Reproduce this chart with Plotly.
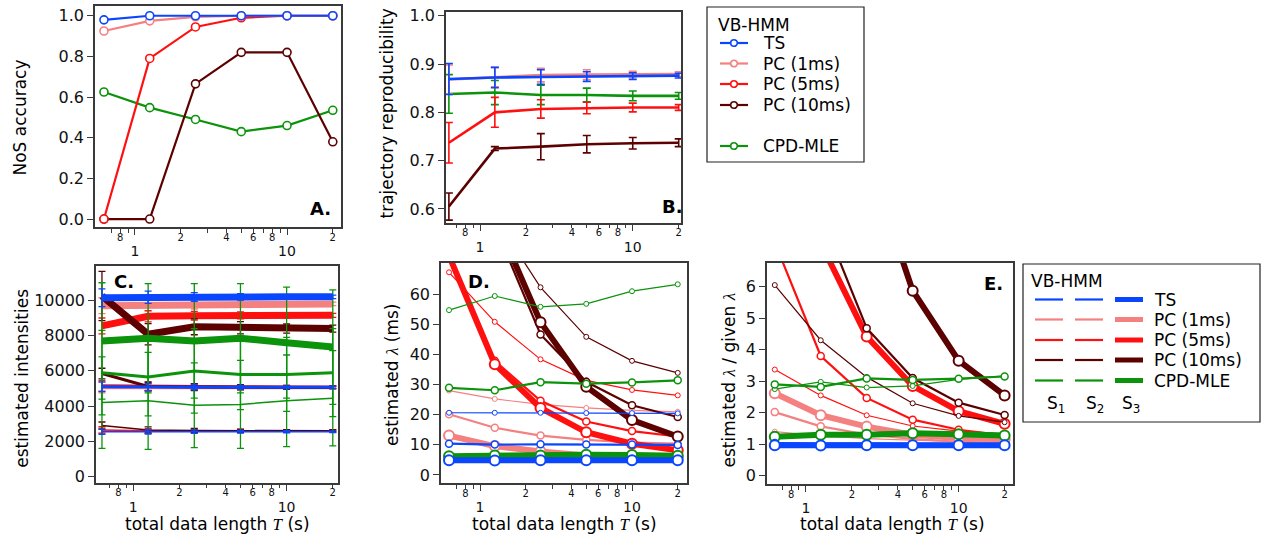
import plotly.graph_objects as go

W, H = 1264, 541
FONT = "DejaVu Sans"
SERIF = "Liberation Serif"
FRAME = "#3a3a3a"
INK = "#111111"

# ---------------- data ----------------
T = [0.625, 1.25, 2.5, 5, 10, 20]
METHODS = ["TS", "PC (1ms)", "PC (5ms)", "PC (10ms)", "CPD-MLE"]
COLORS = ["#0b46ff", "#f48080", "#ff1010", "#5c0000", "#0b930b"]
STATE_LABELS = ["S<sub>1</sub>", "S<sub>2</sub>", "S<sub>3</sub>"]

# Panel A: NoS accuracy
NOS_TS = [0.98, 1.0, 1.0, 1.0, 1.0, 1.0]
NOS_PC1 = [0.925, 0.975, 0.995, 1.0, 1.0, 1.0]
NOS_PC5 = [0.0, 0.79, 0.945, 0.99, 1.0, 1.0]
NOS_PC10 = [0.0, 0.0, 0.665, 0.82, 0.82, 0.38]
NOS_CPD = [0.625, 0.548, 0.49, 0.43, 0.46, 0.535]

# Panel B: trajectory reproducibility (mean, error)
REP_TS = [0.869, 0.872, 0.873, 0.874, 0.875, 0.876]
REP_TS_ERR = [0.032, 0.021, 0.015, 0.010, 0.007, 0.005]
REP_PC1 = [0.868, 0.873, 0.877, 0.878, 0.878, 0.879]
REP_PC1_ERR = [0.030, 0.020, 0.014, 0.010, 0.007, 0.005]
REP_PC5 = [0.737, 0.800, 0.807, 0.809, 0.810, 0.810]
REP_PC5_ERR = [0.042, 0.031, 0.019, 0.012, 0.009, 0.006]
REP_PC10 = [0.605, 0.725, 0.729, 0.734, 0.736, 0.737]
REP_PC10_ERR = [0.028, 0.004, 0.027, 0.018, 0.012, 0.008]
REP_CPD = [0.838, 0.841, 0.836, 0.836, 0.834, 0.834]
REP_CPD_ERR = [0.040, 0.025, 0.020, 0.014, 0.010, 0.007]

# Panel C: estimated intensities, states S1, S2, S3
INT_TS = [[2550, 2540, 2550, 2550, 2550, 2550],
          [5100, 5080, 5080, 5070, 5070, 5070],
          [10150, 10180, 10190, 10200, 10200, 10200]]
INT_TS_ERR = [[150, 120, 100, 80, 60, 50],
              [280, 200, 150, 110, 80, 60],
              [500, 350, 250, 180, 130, 100]]
INT_PC1 = [[2600, 2570, 2570, 2570, 2570, 2570],
           [5050, 5050, 5050, 5050, 5050, 5050],
           [9700, 9720, 9760, 9780, 9790, 9800]]
INT_PC1_ERR = [[150, 120, 100, 80, 60, 50],
               [300, 220, 160, 120, 90, 70],
               [450, 330, 250, 180, 130, 100]]
INT_PC5 = [[2650, 2600, 2600, 2600, 2600, 2600],
           [5150, 5120, 5100, 5100, 5090, 5090],
           [8550, 9100, 9130, 9150, 9150, 9150]]
INT_PC5_ERR = [[180, 130, 100, 80, 60, 50],
               [300, 230, 170, 120, 90, 70],
               [450, 320, 250, 200, 150, 110]]
INT_PC10 = [[2900, 2650, 2620, 2610, 2600, 2600],
            [5850, 5120, 5080, 5070, 5060, 5060],
            [10250, 8080, 8500, 8450, 8400, 8400]]
INT_PC10_ERR = [[200, 170, 120, 90, 70, 60],
                [300, 250, 200, 150, 110, 80],
                [1400, 600, 450, 350, 260, 200]]
INT_CPD = [[4200, 4300, 4050, 4100, 4300, 4450],
           [5900, 5650, 6000, 5800, 5800, 5900],
           [7700, 7850, 7700, 7850, 7600, 7350]]
INT_CPD_ERR = [[2600, 2750, 2400, 2500, 2600, 2700],
               [2400, 2200, 2400, 2000, 2100, 2500],
               [3300, 3100, 3250, 3100, 3150, 3250]]

# Panel D: estimated lambda (ms), states S1, S2, S3
LAM_TS = [[20.7, 20.7, 20.7, 20.6, 20.6, 20.5],
          [10.4, 10.1, 10.2, 10.1, 10.1, 10.0],
          [4.85, 4.8, 4.85, 4.85, 4.85, 4.85]]
LAM_PC1 = [[28.1, 25.3, 23.5, 22.3, 21.5, 21.0],
           [20.2, 15.7, 13.1, 11.7, 10.8, 10.4],
           [13.1, 9.6, 7.8, 6.5, 6.0, 5.8]]
LAM_PC5 = [[67.5, 51.0, 38.5, 31.5, 28.3, 26.5],
           [74.0, 38.0, 24.7, 17.8, 14.6, 12.8],
           [73.0, 36.9, 22.3, 14.2, 10.4, 8.2]]
LAM_PC10 = [[121.0, 86.0, 62.5, 46.0, 38.0, 34.0],
            [125.0, 83.0, 46.8, 31.0, 23.2, 19.3],
            [140.0, 86.0, 50.9, 29.4, 18.3, 12.8]]
LAM_CPD = [[54.9, 59.6, 56.0, 57.0, 61.2, 63.5],
           [29.0, 28.2, 30.9, 30.4, 30.8, 31.5],
           [6.2, 6.5, 6.5, 6.75, 6.6, 6.4]]

# Panel E: estimated lambda / given lambda, states S1, S2, S3
RAT_TS = [[1.035, 1.035, 1.035, 1.03, 1.03, 1.025],
          [1.04, 1.01, 1.02, 1.01, 1.01, 1.0],
          [0.97, 0.96, 0.97, 0.97, 0.97, 0.97]]
RAT_PC1 = [[1.40, 1.27, 1.18, 1.12, 1.08, 1.05],
           [2.02, 1.57, 1.31, 1.17, 1.08, 1.04],
           [2.62, 1.92, 1.56, 1.30, 1.20, 1.16]]
RAT_PC5 = [[3.37, 2.55, 1.92, 1.58, 1.42, 1.33],
           [7.4, 3.8, 2.47, 1.78, 1.46, 1.28],
           [14.6, 7.38, 4.42, 2.85, 2.05, 1.65]]
RAT_PC10 = [[6.05, 4.3, 3.13, 2.3, 1.9, 1.7],
            [12.5, 8.3, 4.68, 3.1, 2.32, 1.93],
            [28.0, 17.2, 10.2, 5.87, 3.65, 2.55]]
RAT_CPD = [[2.75, 2.98, 2.80, 2.85, 3.06, 3.17],
           [2.90, 2.82, 3.09, 3.04, 3.08, 3.15],
           [1.24, 1.30, 1.30, 1.35, 1.32, 1.28]]

# x tick labels (Igor-like log axis)
LABELED_VALS = [0.8, 2, 4, 6, 8, 20]
LABELED_TEXT = ["8", "2", "4", "6", "8", "2"]
UNLABELED_VALS = [0.7, 0.9, 3, 5, 7, 9]
MAJOR_VALS = [1, 10]
MAJOR_TEXT = ["1", "10"]

NOS = [NOS_TS, NOS_PC1, NOS_PC5, NOS_PC10, NOS_CPD]
REP = [REP_TS, REP_PC1, REP_PC5, REP_PC10, REP_CPD]
REP_ERR = [REP_TS_ERR, REP_PC1_ERR, REP_PC5_ERR, REP_PC10_ERR, REP_CPD_ERR]
INT = [INT_TS, INT_PC1, INT_PC5, INT_PC10, INT_CPD]
INT_ERR = [INT_TS_ERR, INT_PC1_ERR, INT_PC5_ERR, INT_PC10_ERR, INT_CPD_ERR]
LAM = [LAM_TS, LAM_PC1, LAM_PC5, LAM_PC10, LAM_CPD]
RAT = [RAT_TS, RAT_PC1, RAT_PC5, RAT_PC10, RAT_CPD]

# ---------------- styles ----------------
TOP_ORDER = [4, 3, 2, 1, 0]
BOT_ORDER = [1, 2, 3, 4, 0]
C_WIDTH = [1.5, 3, 7]
DE_WIDTH = [1.2, 2.2, 6]
DE_MSIZE = [5, 7, 10]
DE_MLINE = [1, 1.5, 2]


def px(x):
    return x / W


def py(y):
    return 1 - y / H


fig = go.Figure()

# Panel A
for m in TOP_ORDER:
    fig.add_trace(go.Scatter(
        x=T, y=NOS[m], mode="lines+markers", name=METHODS[m], showlegend=False,
        line=dict(color=COLORS[m], width=2.2),
        marker=dict(symbol="circle", size=8, color="white",
                    line=dict(color=COLORS[m], width=1.6)),
        xaxis="x", yaxis="y"))

# Panel B
for m in TOP_ORDER:
    fig.add_trace(go.Scatter(
        x=T, y=REP[m], mode="lines", name=METHODS[m], showlegend=False,
        line=dict(color=COLORS[m], width=2.6),
        error_y=dict(type="data", array=REP_ERR[m], color=COLORS[m],
                     thickness=1.6, width=4),
        xaxis="x2", yaxis="y2"))

# Panel C
for m in BOT_ORDER:
    for s in range(3):
        fig.add_trace(go.Scatter(
            x=T, y=INT[m][s], mode="lines", showlegend=False,
            name="%s S%d" % (METHODS[m], s + 1),
            line=dict(color=COLORS[m], width=C_WIDTH[s]),
            error_y=dict(type="data", array=INT_ERR[m][s], color=COLORS[m],
                         thickness=1.3, width=3.5),
            xaxis="x3", yaxis="y3"))

# Panels D and E
for data, xa, ya in [(LAM, "x4", "y4"), (RAT, "x5", "y5")]:
    for m in BOT_ORDER:
        for s in range(3):
            fig.add_trace(go.Scatter(
                x=T, y=data[m][s], mode="lines+markers", showlegend=False,
                name="%s S%d" % (METHODS[m], s + 1),
                line=dict(color=COLORS[m], width=DE_WIDTH[s]),
                marker=dict(symbol="circle", size=DE_MSIZE[s], color="white",
                            line=dict(color=COLORS[m], width=DE_MLINE[s])),
                xaxis=xa, yaxis=ya))

# empty traces so that the overlay (major-tick) axes are drawn
for i in range(5):
    fig.add_trace(go.Scatter(x=[], y=[], showlegend=False, hoverinfo="skip",
                             xaxis="x%d" % (i + 6),
                             yaxis="y" if i == 0 else "y%d" % (i + 1)))

PANELS = [
    # xdomain px, ydomain px (top, bottom), x log range, y range, y tick values, fmt
    ((95, 341), (6, 227), [-0.263, 1.355], [-0.039, 1.048],
     [0, 0.2, 0.4, 0.6, 0.8, 1.0], ".1f"),
    ((446, 681), (12.3, 222.7), [-0.223, 1.316], [0.5716, 1.007],
     [0.6, 0.7, 0.8, 0.9, 1.0], ".1f"),
    ((96, 338), (266, 482.7), [-0.243, 1.335], [-343, 11950],
     [0, 2000, 4000, 6000, 8000, 10000], "d"),
    ((441, 687), (263, 483), [-0.257, 1.362], [-2.7, 70.6],
     [0, 10, 20, 30, 40, 50, 60], "d"),
    ((767, 1013), (263, 484), [-0.255, 1.356], [-0.26, 6.75],
     [0, 1, 2, 3, 4, 5, 6], "d"),
]

layout = dict(
    width=W, height=H, margin=dict(l=0, r=0, t=0, b=0, autoexpand=False),
    paper_bgcolor="white", plot_bgcolor="white",
    font=dict(family=FONT, color=INK, size=16),
    showlegend=False,
)

for i, (xd, yd, xr, yr, yt, fmt) in enumerate(PANELS):
    k = "" if i == 0 else str(i + 1)
    layout["xaxis" + k] = dict(
        type="log", domain=[px(xd[0]), px(xd[1])], range=xr, anchor="y" + k,
        automargin=False,
        showline=True, linecolor=FRAME, linewidth=1.5, mirror=True,
        ticks="outside", ticklen=4, tickwidth=1, tickcolor=FRAME,
        tickmode="array", tickvals=LABELED_VALS, ticktext=LABELED_TEXT,
        ticklabelstandoff=-4,
        tickfont=dict(family=FONT, size=10, color=INK),
        minor=dict(tickmode="array", tickvals=UNLABELED_VALS, ticks="outside",
                   ticklen=4, tickwidth=1, tickcolor=FRAME, showgrid=False),
        showgrid=False, zeroline=False)
    layout["xaxis%d" % (i + 6)] = dict(
        type="log", overlaying="x" + k, range=xr, anchor="y" + k, side="bottom",
        automargin=False,
        showline=False, ticks="outside", ticklen=7, tickwidth=1, tickcolor=FRAME,
        tickmode="array", tickvals=MAJOR_VALS, ticktext=MAJOR_TEXT,
        ticklabelstandoff=4,
        tickfont=dict(family=FONT, size=14, color=INK),
        showgrid=False, zeroline=False)
    layout["yaxis" + k] = dict(
        domain=[py(yd[1]), py(yd[0])], range=yr, anchor="x" + k,
        automargin=False,
        showline=True, linecolor=FRAME, linewidth=1.5, mirror=True,
        ticks="outside", ticklen=6, tickwidth=1.2, tickcolor=FRAME,
        tickmode="array", tickvals=yt, tickformat=fmt,
        tickfont=dict(family=FONT, size=16, color=INK),
        showgrid=False, zeroline=False)

ann = []
shapes = []
lam = "<span style=\"font-family:%s\"><i>λ</i></span>" % SERIF
tt = "<span style=\"font-family:%s\"><i>T</i></span>" % SERIF


def add_text(text, x, y, size=17, angle=0, bold=False, xanchor="center"):
    ann.append(dict(text="<b>%s</b>" % text if bold else text,
                    x=px(x), y=py(y), xref="paper", yref="paper",
                    xanchor=xanchor, yanchor="middle", showarrow=False,
                    textangle=angle,
                    font=dict(family=FONT, size=size, color="black")))


def add_line(x0, x1, y, color, width):
    shapes.append(dict(type="line", xref="paper", yref="paper",
                       x0=px(x0), x1=px(x1), y0=py(y), y1=py(y),
                       line=dict(color=color, width=width)))


def add_box(x0, x1, y0, y1):
    shapes.append(dict(type="rect", xref="paper", yref="paper",
                       x0=px(x0), x1=px(x1), y0=py(y1), y1=py(y0),
                       line=dict(color="#222222", width=1.2),
                       fillcolor="white", layer="below"))


# axis titles
add_text("NoS accuracy", 20, 117.5, angle=-90)
add_text("trajectory reproducibility", 386, 113.5, angle=-90)
add_text("estimated intensities", 21.7, 378, angle=-90)
add_text("estimated %s (ms)" % lam, 392, 375, angle=-90)
add_text("estimated %s / given %s" % (lam, lam), 728.5, 380, angle=-90)
for xc in (217.5, 564, 892):
    add_text("total data length %s (s)" % tt, xc, 523.5)

# panel labels
add_text("A.", 320, 208, size=18, bold=True)
add_text("B.", 673, 207, size=18, bold=True)
add_text("C.", 124, 281, size=18, bold=True)
add_text("D.", 479, 281, size=18, bold=True)
add_text("E.", 993, 283, size=18, bold=True)

# legend 1 (methods, for panels A and B)
add_box(707, 864, 7, 162)
add_text("VB-HMM", 716, 24.5, size=17, xanchor="left")
LEG1_Y = [43, 63.5, 84, 105, 146]
for m, yrow in enumerate(LEG1_Y):
    add_line(720, 748, yrow, COLORS[m], 2.2)
    r = 3.3
    shapes.append(dict(type="circle", xref="paper", yref="paper",
                       x0=px(734 - r), x1=px(734 + r),
                       y0=py(yrow + r), y1=py(yrow - r),
                       line=dict(color=COLORS[m], width=1.6),
                       fillcolor="white"))
    add_text(METHODS[m], 761, yrow, size=17, xanchor="left")

# legend 2 (states grid, for panels C-E)
add_box(1023, 1260, 264, 422)
add_text("VB-HMM", 1029, 281, size=17, xanchor="left")
ROW_Y = [299.5, 319.5, 340, 360, 380.5]
COL_X = [(1035, 1063), (1075, 1103), (1115, 1143)]
LEG_W = [2.2, 2.2, 5]
for m, yrow in enumerate(ROW_Y):
    for s, (x0, x1) in enumerate(COL_X):
        add_line(x0, x1, yrow, COLORS[m], LEG_W[s])
    add_text(METHODS[m], 1152, yrow, size=17, xanchor="left")
for s, xc in enumerate((1056, 1095, 1131)):
    add_text(STATE_LABELS[s], xc, 404, size=17)

layout["annotations"] = ann
layout["shapes"] = shapes
fig.update_layout(**layout)
fig.write_html(
    "out.html",
    config={"displayModeBar": False},
    post_script="document.body.style.margin='0px';document.body.style.padding='0px';",
)
